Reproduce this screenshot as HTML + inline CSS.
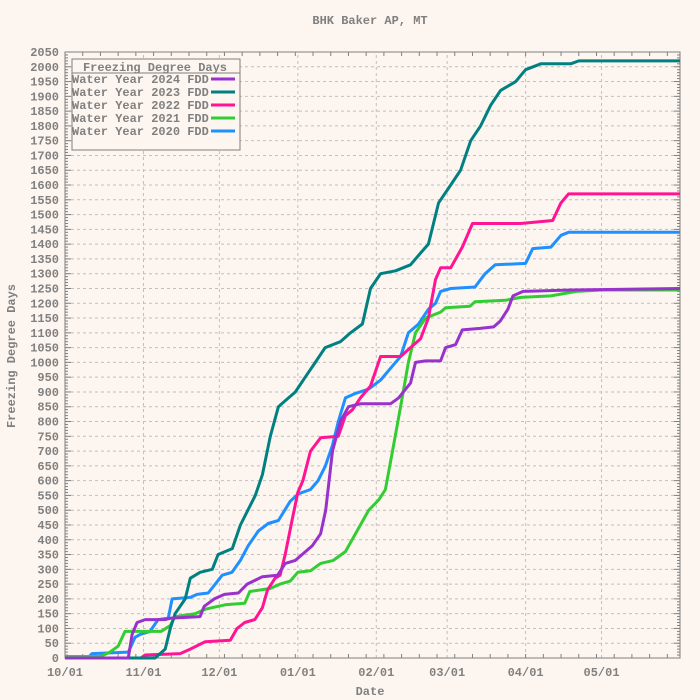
<!DOCTYPE html>
<html><head><meta charset="utf-8"><style>
body{margin:0;background:#fdf5ef;}
svg{display:block;font-family:"Liberation Mono",monospace;}
</style></head><body>
<svg id="chart" width="700" height="700" viewBox="0 0 700 700">
<rect width="700" height="700" fill="#fdf5ef"/>
<text x="370" y="24" font-size="12" fill="#808080" text-anchor="middle" font-weight="bold">BHK Baker AP, MT</text>
<text x="370" y="695" font-size="12" fill="#808080" text-anchor="middle" font-weight="bold">Date</text>
<text x="15" y="356" font-size="12" fill="#808080" text-anchor="middle" font-weight="bold" transform="rotate(-90 15 356)">Freezing Degree Days</text>
<g id="grid"></g><g id="axes"></g><g id="series"></g><g id="legend"></g>
</svg>
<script>
const yTicks=[0,50,100,150,200,250,300,350,400,450,500,550,600,650,700,750,800,850,900,950,1000,1050,1100,1150,1200,1250,1300,1350,1400,1450,1500,1550,1600,1650,1700,1750,1800,1850,1900,1950,2000,2050];
const monthLabels=["10/01","11/01","12/01","01/01","02/01","03/01","04/01","05/01"];
const monthDays=[0,31,61,92,123,151,182,212];
const seriesNames=["Water Year 2024 FDD","Water Year 2023 FDD","Water Year 2022 FDD","Water Year 2021 FDD","Water Year 2020 FDD"];
const seriesColors=["#9932cc","#008080","#ff1493","#32cd32","#1e90ff"];
const days2024=[0,25,26.5,28.5,31.7,39.6,42,53.4,55,59,63,68.5,72,78,84,87,91,93,97.7,101,103,105.7,108.8,112,116.7,128.6,131.8,136.5,138.5,142.5,148.4,150.4,154.3,157,164,169.4,172,175,177,181,200,243];
const vals2024=[0,0,80,120,130,130,135,140,175,200,215,220,250,275,280,320,330,345,380,420,500,700,800,850,860,860,880,930,1000,1005,1005,1050,1060,1110,1115,1120,1140,1180,1225,1240,1245,1250];
const days2023=[0,35.6,39.6,41.6,43.5,47.5,49.5,53.4,58.2,60.5,66.1,69.3,75.2,78,81.1,84.3,87,91,94.9,98.9,102.8,108.8,112.8,117.5,120.7,124.7,130.6,136.5,140.5,143.6,147.6,152.4,156.3,160.3,164.2,168.2,172.1,178.1,182,188,199.8,203,243];
const vals2023=[0,0,30,100,150,200,270,290,300,350,370,450,550,620,750,850,870,900,950,1000,1050,1070,1100,1130,1250,1300,1310,1330,1370,1400,1540,1600,1650,1750,1800,1870,1920,1950,1990,2010,2010,2020,2020];
const days2022=[0,30,31.7,45.5,49.5,55.4,65.3,68,71,75,78,80,83,85,87,89.8,92,94,97,101,108,110.8,113.6,116.7,120.7,124.7,132.6,136.5,140.5,143.6,146.4,148.4,152.4,157,161,180,192.7,196,199,243];
const vals2022=[0,0,10,15,30,55,60,100,120,130,170,230,270,280,350,470,560,600,700,745,750,820,840,880,920,1020,1020,1050,1080,1150,1280,1320,1320,1390,1470,1470,1480,1540,1570,1570];
const days2021=[0,13.9,17.8,21,23.7,35.6,38,41.6,43.5,51.4,55.4,63.3,71,73,81,85,89,92,97,101,106,110.8,116.7,120,124,126.6,129.4,132.6,135.7,138.5,142.5,148.4,150.4,160,162,174,180,192,202,212,243];
const vals2021=[5,5,20,40,90,90,90,110,140,150,165,180,185,225,235,250,260,290,295,320,330,360,450,500,535,570,700,850,1000,1100,1150,1170,1185,1190,1205,1210,1220,1225,1240,1245,1245];
const days2020=[0,9,10.7,25,27.7,29.7,33.6,36.8,40.8,42.3,49.5,52.2,56.6,59.4,62.1,66,69.3,72.4,76.4,80.3,84.3,89,92.2,97,100,102.9,105.7,108,110.8,114.8,120,124.7,128.6,132.6,135.7,139.7,143.6,146.4,148.4,152.4,162,166,170,182,184.8,192,196,199,243];
const vals2020=[0,0,15,20,70,80,90,130,135,200,205,215,220,250,280,290,330,380,430,455,465,530,555,570,600,650,720,800,880,895,910,940,980,1020,1100,1130,1180,1200,1240,1250,1255,1300,1330,1335,1385,1390,1430,1440,1440];
const seriesDays=[days2024,days2023,days2022,days2021,days2020];
const seriesVals=[vals2024,vals2023,vals2022,vals2021,vals2020];

const X0=65,X1=680,Y0=658,Y1=52,DMAX=243,VMAX=2050;
const xs=d=>X0+d*(X1-X0)/DMAX;
const ys=v=>Y0-v*(Y0-Y1)/VMAX;
const NS="http://www.w3.org/2000/svg";
function mk(tag,parent){const e=document.createElementNS(NS,tag);parent.appendChild(e);return e;}
const grid=document.getElementById('grid'),axes=document.getElementById('axes'),ser=document.getElementById('series'),leg=document.getElementById('legend');
yTicks.forEach(v=>{
  const y=ys(v);
  if(v>0&&v<VMAX){const l=mk('line',grid);
  
  
  l.setAttribute('x1',X0);l.setAttribute('x2',X1);l.setAttribute('y1',y);l.setAttribute('y2',y);
  l.setAttribute('stroke','#c0c0c0');l.setAttribute('stroke-dasharray','3,3');}
  const t=mk('text',axes);
  
  
  t.setAttribute('x',X0-6);t.setAttribute('y',y+4);t.setAttribute('text-anchor','end');
  t.setAttribute('font-size','12');t.setAttribute('font-weight','bold');t.setAttribute('fill','#808080');t.textContent=v;
});
for(let v=0;v<=VMAX;v+=10){const y=ys(v);const big=v%50===0;
  [[X0,X0+(big?6:3)],[X1,X1-(big?6:3)]].forEach(p=>{const l=mk('line',axes);
  
  
  l.setAttribute('x1',p[0]);l.setAttribute('x2',p[1]);l.setAttribute('y1',y);l.setAttribute('y2',y);l.setAttribute('stroke','#808080');});}
for(let d=0;d<=DMAX;d+=7){const x=xs(d);
  [[Y0,Y0-4],[Y1,Y1+4]].forEach(p=>{const l=mk('line',axes);
  
  
  l.setAttribute('x1',x);l.setAttribute('x2',x);l.setAttribute('y1',p[0]);l.setAttribute('y2',p[1]);l.setAttribute('stroke','#808080');});}
monthDays.forEach((d,i)=>{const x=xs(d);
  if(d>0){const l=mk('line',grid);
  
  
  l.setAttribute('x1',x);l.setAttribute('x2',x);l.setAttribute('y1',Y0);l.setAttribute('y2',Y1);
  l.setAttribute('stroke','#c0c0c0');l.setAttribute('stroke-dasharray','3,3');}
  const t=mk('text',axes);
  
  
  t.setAttribute('x',x);t.setAttribute('y',Y0+18);t.setAttribute('text-anchor','middle');
  t.setAttribute('font-size','12');t.setAttribute('font-weight','bold');t.setAttribute('fill','#808080');t.textContent=monthLabels[i];
});
const frame=mk('rect',axes);


frame.setAttribute('x',X0);frame.setAttribute('y',Y1);frame.setAttribute('width',X1-X0);frame.setAttribute('height',Y0-Y1);
frame.setAttribute('fill','none');frame.setAttribute('stroke','#808080');
for(let s=seriesNames.length-1;s>=0;s--){
  const pts=seriesDays[s].map((d,i)=>xs(d).toFixed(1)+','+ys(seriesVals[s][i]).toFixed(1)).join(' ');
  const p=mk('polyline',ser);
  
  
  p.setAttribute('points',pts);p.setAttribute('fill','none');p.setAttribute('stroke',seriesColors[s]);
  p.setAttribute('stroke-width','3');p.setAttribute('stroke-linejoin','round');
}
const box=mk('rect',leg);


box.setAttribute('x',72);box.setAttribute('y',59);box.setAttribute('width',168);box.setAttribute('height',91);
box.setAttribute('fill','#fdf5ef');box.setAttribute('stroke','#808080');
const lt=mk('text',leg);


lt.setAttribute('x',155);lt.setAttribute('y',71);lt.setAttribute('text-anchor','middle');lt.setAttribute('font-size','12');
lt.setAttribute('font-weight','bold');lt.setAttribute('fill','#808080');lt.textContent='Freezing Degree Days';
const ul=mk('line',leg);


ul.setAttribute('x1',72);ul.setAttribute('x2',240);ul.setAttribute('y1',73);ul.setAttribute('y2',73);ul.setAttribute('stroke','#808080');
seriesNames.forEach((n,i)=>{const y=79+i*13;
  const t=mk('text',leg);
  
  
  t.setAttribute('x',72);t.setAttribute('y',y+4);t.setAttribute('font-size','12');t.setAttribute('font-weight','bold');
  t.setAttribute('fill','#808080');t.textContent=n;
  const l=mk('line',leg);
  
  
  l.setAttribute('x1',211);l.setAttribute('x2',235);l.setAttribute('y1',y);l.setAttribute('y2',y);
  l.setAttribute('stroke',seriesColors[i]);l.setAttribute('stroke-width','3');
});
</script>
</body></html>
